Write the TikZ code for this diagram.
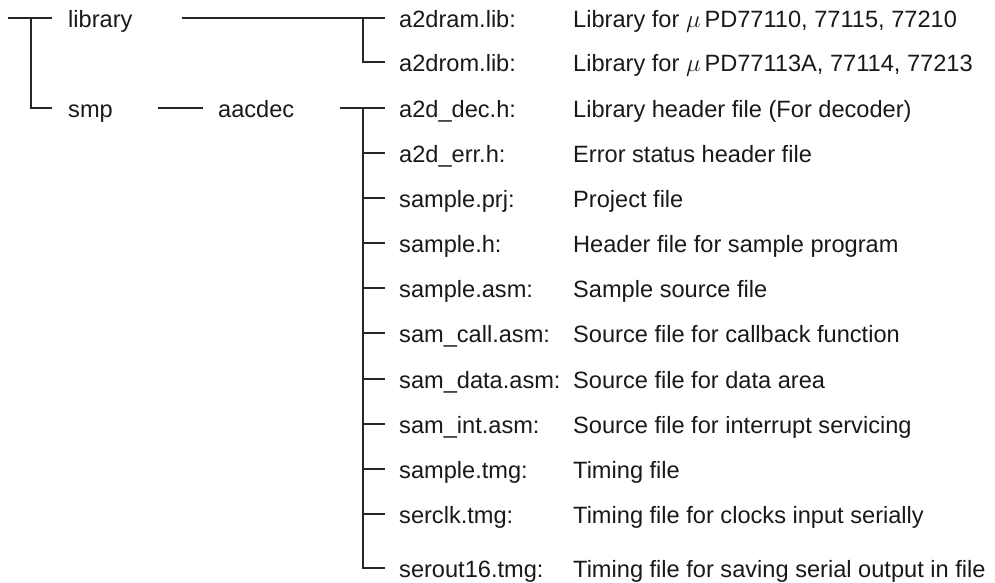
\documentclass[tikz,border=0pt]{standalone}
\usepackage{fontspec}
\setmainfont{Liberation Sans}
\begin{document}
\begin{tikzpicture}[x=1pt,y=-1pt,
  every node/.style={inner sep=0pt, anchor=base west, text=black!90,
    font=\fontsize{23.6}{28}\selectfont},
  branch/.style={line width=1.1pt, draw=black!85}]
\useasboundingbox (0,0) rectangle (995,582);
% a tree line meets a label 9.5pt above its baseline
\def\raiseline{-9.5}

% directory nodes (placed by baseline)
\node (library) at (68,27.5)  {library};
\node (smp)     at (68,117.5) {smp};
\node (aacdec)  at (218,117.5) {aacdec};

% file names and their descriptions
\foreach \n/\y/\fname/\fdesc in {
  1/18/{a2dram.lib:}/{Library for $\mu$\,PD77110, 77115, 77210},
  2/62/{a2drom.lib:}/{Library for $\mu$\,PD77113A, 77114, 77213},
  3/108/{a2d\_dec.h:}/{Library header file (For decoder)},
  4/153/{a2d\_err.h:}/{Error status header file},
  5/198/{sample.prj:}/{Project file},
  6/243/{sample.h:}/{Header file for sample program},
  7/288/{sample.asm:}/{Sample source file},
  8/333/{sam\_call.asm:}/{Source file for callback function},
  9/379/{sam\_data.asm:}/{Source file for data area},
  10/424/{sam\_int.asm:}/{Source file for interrupt servicing},
  11/469/{sample.tmg:}/{Timing file},
  12/514/{serclk.tmg:}/{Timing file for clocks input serially},
  13/568/{serout16.tmg:}/{Timing file for saving serial output in file}}{
  \node (f\n) at (399,\y+9.5) {\fname};
  \node (d\n) at (573,\y+9.5) {\fdesc};
}

% junction points of the tree
\coordinate (rootin)  at (8,18);
\coordinate (rootbus) at (31,18);
\coordinate (libout)  at (182,18);
\coordinate (smpout)  at (158,108);
\coordinate (aacout)  at (340,108);
\coordinate (libbus)  at (363,18);
\coordinate (aacbus)  at (363,108);

% root level
\draw[branch] (rootin) -- ([shift={(-16,\raiseline)}]library.base west);
\draw[branch] (rootbus) |- ([shift={(-16,\raiseline)}]smp.base west);

% library branch
\draw[branch] (libout) -- ([shift={(-14,\raiseline)}]f1.base west);
\draw[branch] (libbus) |- ([shift={(-14,\raiseline)}]f2.base west);

% smp / aacdec branch
\draw[branch] (smpout) -- ([shift={(-15,\raiseline)}]aacdec.base west);
\draw[branch] (aacout) -- ([shift={(-14,\raiseline)}]f3.base west);
\draw[branch] (aacbus) |- ([shift={(-14,\raiseline)}]f13.base west);
\foreach \n in {4,...,12}
  \draw[branch] ([shift={(0,\raiseline)}]f\n.base west -| aacbus)
    -- ([shift={(-14,\raiseline)}]f\n.base west);
\end{tikzpicture}
\end{document}
